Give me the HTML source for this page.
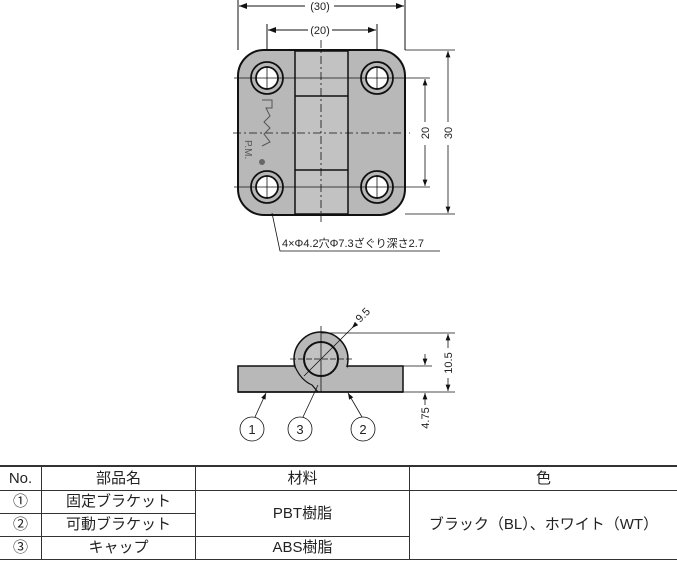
<!DOCTYPE html>
<html><head><meta charset="utf-8"><style>
body{margin:0;background:#fff;width:677px;height:561px;overflow:hidden;position:relative;font-family:"Liberation Sans","Noto Sans CJK JP",sans-serif}
svg{position:absolute;left:0;top:0}
table{position:absolute;left:0;top:465px;width:677px;border-collapse:collapse;font-size:15px;color:#222}
td{border:1px solid #333;text-align:center;padding:0;height:22px;line-height:22px}
tr:first-child td{border-top:2px solid #333;height:23px}
tr td:first-child{border-left:none}
tr td:last-child{border-right:none}
</style></head><body>
<svg width="677" height="465" viewBox="0 0 677 465">
<defs><marker id="a" markerWidth="8" markerHeight="6" refX="8" refY="3" orient="auto-start-reverse"><path d="M0,0L8,3L0,6z" fill="#111"/></marker></defs>
<g stroke="#111" stroke-width="1" fill="none">
<line x1="238" y1="0" x2="238" y2="50"/><line x1="405" y1="0" x2="405" y2="50"/>
<line x1="239" y1="6" x2="305" y2="6" marker-start="url(#a)"/><line x1="334" y1="6" x2="404" y2="6" marker-end="url(#a)"/>
<line x1="267" y1="24" x2="267" y2="78"/><line x1="377" y1="24" x2="377" y2="78"/>
<line x1="268" y1="30" x2="308" y2="30" marker-start="url(#a)"/><line x1="332" y1="30" x2="376" y2="30" marker-end="url(#a)"/>
</g>
<text x="320" y="10" font-size="11" text-anchor="middle" fill="#222">(30)</text>
<text x="320" y="34" font-size="11" text-anchor="middle" fill="#222">(20)</text>
<rect x="238" y="50" width="167" height="165" rx="26" fill="#b8b8b8" stroke="#111" stroke-width="2"/>
<rect x="295" y="51" width="53" height="163" fill="#c2c2c2" stroke="#111" stroke-width="1.5"/>
<line x1="295" y1="96" x2="348" y2="96" stroke="#111" stroke-width="1.5"/>
<line x1="295" y1="170" x2="348" y2="170" stroke="#111" stroke-width="1.5"/>
<g stroke="#111" stroke-width="1.8">
<circle cx="267" cy="78" r="16" fill="#b8b8b8"/><circle cx="267" cy="78" r="11" fill="#fff"/>
<circle cx="377" cy="78" r="16" fill="#b8b8b8"/><circle cx="377" cy="78" r="11" fill="#fff"/>
<circle cx="267" cy="187" r="16" fill="#b8b8b8"/><circle cx="267" cy="187" r="11" fill="#fff"/>
<circle cx="377" cy="187" r="16" fill="#b8b8b8"/><circle cx="377" cy="187" r="11" fill="#fff"/>
</g>
<g stroke="#111" stroke-width="0.8" fill="none">
<line x1="234" y1="78" x2="430" y2="78"/><line x1="234" y1="187" x2="430" y2="187"/>
<line x1="233" y1="133" x2="410" y2="133" stroke-dasharray="8,3,2,3"/>
<line x1="321" y1="40" x2="321" y2="222" stroke-dasharray="8,3,2,3"/>
<line x1="377" y1="66" x2="377" y2="90"/><line x1="267" y1="66" x2="267" y2="90"/>
<line x1="377" y1="175" x2="377" y2="199"/><line x1="267" y1="175" x2="267" y2="199"/>
<line x1="405" y1="50" x2="455" y2="50"/><line x1="405" y1="214" x2="455" y2="214"/>
<line x1="425" y1="79" x2="425" y2="122" marker-start="url(#a)"/><line x1="425" y1="145" x2="425" y2="186" marker-end="url(#a)"/>
<line x1="448" y1="51" x2="448" y2="122" marker-start="url(#a)"/><line x1="448" y1="145" x2="448" y2="213" marker-end="url(#a)"/>
<polyline points="272,213 280,251 440,251"/>
</g>
<text transform="translate(429,133) rotate(-90)" font-size="11" text-anchor="middle" fill="#222">20</text>
<text transform="translate(452,133) rotate(-90)" font-size="11" text-anchor="middle" fill="#222">30</text>
<text x="282" y="247" font-size="11" fill="#222">4×Φ4.2穴Φ7.3ざぐり深さ2.7</text>
<text transform="translate(245,140) rotate(90)" font-size="10" fill="#555">P.M.</text>
<path d="M262,100 h10 v8 h-6 l4,8 -6,6 6,6 -6,6 6,8 -8,4" stroke="#555" fill="none" stroke-width="1"/>
<circle cx="262" cy="162" r="3" fill="#666"/>
<!-- side view -->
<rect x="238" y="366" width="165" height="26" fill="#b8b8b8" stroke="#111" stroke-width="1.5"/>
<circle cx="321" cy="359" r="27" fill="#b8b8b8" stroke="#111" stroke-width="1.5"/>
<rect x="295" y="367" width="52" height="24" fill="#b8b8b8"/>
<circle cx="321" cy="359" r="17" fill="#c2c2c2" stroke="#111" stroke-width="2"/>
<path d="M294,364 Q300,380 312,385 L318,392" stroke="#111" fill="none" stroke-width="1.2"/>
<line x1="238" y1="392" x2="403" y2="392" stroke="#111" stroke-width="1.5"/>
<g stroke="#111" stroke-width="0.8" fill="none">
<line x1="321" y1="326" x2="321" y2="392"/><line x1="290" y1="359" x2="353" y2="359" stroke-dasharray="6,2"/>
<line x1="304" y1="376" x2="355" y2="325"/><line x1="355" y1="325" x2="352" y2="328" marker-end="url(#a)"/>
<line x1="321" y1="333" x2="455" y2="333"/><line x1="403" y1="366" x2="432" y2="366"/><line x1="403" y1="392" x2="455" y2="392"/>
<line x1="448" y1="334" x2="448" y2="348" marker-start="url(#a)"/><line x1="448" y1="378" x2="448" y2="391" marker-end="url(#a)"/>
<line x1="425" y1="354" x2="425" y2="365" marker-end="url(#a)"/><line x1="425" y1="405" x2="425" y2="393" marker-end="url(#a)"/>
<line x1="255" y1="417" x2="266" y2="393" marker-end="url(#a)"/>
<line x1="303" y1="417" x2="318" y2="385"/>
<line x1="362" y1="417" x2="348" y2="393" marker-end="url(#a)"/>
<circle cx="252" cy="429" r="12"/><circle cx="300" cy="429" r="12"/><circle cx="363" cy="429" r="12"/>
</g>
<text transform="translate(360,323) rotate(-45)" font-size="11" fill="#222">9.5</text>
<text transform="translate(452,363) rotate(-90)" font-size="11" text-anchor="middle" fill="#222">10.5</text>
<text transform="translate(429,418) rotate(-90)" font-size="11" text-anchor="middle" fill="#222">4.75</text>
<g font-size="13" text-anchor="middle" fill="#222"><text x="252" y="434">1</text><text x="300" y="434">3</text><text x="363" y="434">2</text></g>
</svg>
<table>
<tr><td style="width:41px">No.</td><td style="width:153px">部品名</td><td style="width:213px">材料</td><td>色</td></tr>
<tr><td>①</td><td>固定ブラケット</td><td rowspan="2">PBT樹脂</td><td rowspan="3">ブラック（BL）、ホワイト（WT）</td></tr>
<tr><td>②</td><td>可動ブラケット</td></tr>
<tr><td>③</td><td>キャップ</td><td>ABS樹脂</td></tr>
</table>
</body></html>
